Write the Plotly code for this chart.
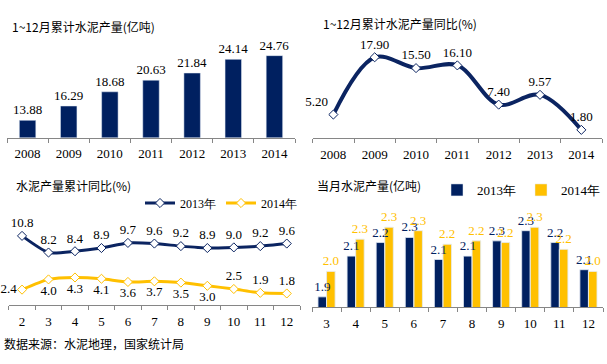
import plotly.graph_objects as go

# ---------------- data ----------------
years = ["2008", "2009", "2010", "2011", "2012", "2013", "2014"]
annual_output = [13.88, 16.29, 18.68, 20.63, 21.84, 24.14, 24.76]
annual_growth = [5.20, 17.90, 15.50, 16.10, 7.40, 9.57, 1.80]

cum_months = ["2", "3", "4", "5", "6", "7", "8", "9", "10", "11", "12"]
cum_growth_2013 = [10.8, 8.2, 8.4, 8.9, 9.7, 9.6, 9.2, 8.9, 9.0, 9.2, 9.6]
cum_growth_2014 = [2.4, 4.0, 4.3, 4.1, 3.6, 3.7, 3.5, 3.0, 2.5, 1.9, 1.8]

mon_months = ["3", "4", "5", "6", "7", "8", "9", "10", "11", "12"]
mon_2013 = [1.90, 2.14, 2.22, 2.25, 2.12, 2.14, 2.23, 2.29, 2.22, 2.06]
mon_2014 = [2.05, 2.24, 2.31, 2.29, 2.21, 2.23, 2.22, 2.31, 2.18, 2.05]
mon_2013_labels = ["1.9", "2.1", "2.2", "2.3", "2.1", "2.1", "2.3", "2.3", "2.2", "2.1"]
mon_2014_labels = ["2.0", "2.3", "2.3", "2.3", "2.2", "2.2", "2.2", "2.3", "2.2", "2.0"]

# ---------------- style ----------------
W, H = 607, 364
NAVY = "#0B2461"
BARNAVY = "#002060"
YELLOW = "#FFC000"
AXIS = "#868686"
NUMFONT = "Liberation Serif"
CJK = "Noto Sans CJK SC"


def xd(a, b):
    return [a / W, b / W]


def yd(top, bottom):
    return [1 - bottom / H, 1 - top / H]


fig = go.Figure()

# Panel 1: annual output bars
fig.add_trace(go.Bar(
    x=years, y=annual_output, xaxis="x", yaxis="y",
    marker_color=BARNAVY, width=0.4,
    text=[f"{v:.2f}" for v in annual_output], textposition="outside",
    textfont=dict(family=NUMFONT, size=13, color="#000"), constraintext="none",
    cliponaxis=False, showlegend=False))

# Panel 2: annual growth line
pos2 = ["top left", "top center", "top center", "top center", "top center", "top center", "top center"]
fig.add_trace(go.Scatter(
    x=years, y=annual_growth, xaxis="x2", yaxis="y2",
    mode="lines+markers+text", line=dict(color=NAVY, width=4, shape="spline", smoothing=1),
    marker=dict(symbol="diamond", size=7, color="white", line=dict(color=NAVY, width=1)),
    text=[f"{v:.2f}" for v in annual_growth], textposition=pos2,
    textfont=dict(family=NUMFONT, size=13, color="#000"),
    cliponaxis=False, showlegend=False))

# Panel 3: cumulative growth lines
pos3_2014 = ["middle left"] + ["bottom center"] * 7 + ["top center"] * 3
fig.add_trace(go.Scatter(
    x=cum_months, y=cum_growth_2013, xaxis="x3", yaxis="y3", name="2013年",
    mode="lines+markers+text", line=dict(color=NAVY, width=3, shape="spline", smoothing=0.6),
    marker=dict(symbol="diamond", size=7, color="white", line=dict(color=NAVY, width=1)),
    text=[f"{v:.1f}" for v in cum_growth_2013], textposition="top center",
    textfont=dict(family=NUMFONT, size=13, color="#000"),
    cliponaxis=False, legend="legend"))
fig.add_trace(go.Scatter(
    x=cum_months, y=cum_growth_2014, xaxis="x3", yaxis="y3", name="2014年",
    mode="lines+markers+text", line=dict(color=YELLOW, width=3, shape="spline", smoothing=0.6),
    marker=dict(symbol="diamond", size=7, color="white", line=dict(color=YELLOW, width=1)),
    text=[f"{v:.1f}" for v in cum_growth_2014], textposition=pos3_2014,
    textfont=dict(family=NUMFONT, size=13, color="#000"),
    cliponaxis=False, legend="legend"))

# Panel 4: monthly output bars (bars on base axes)
fig.add_trace(go.Bar(
    x=mon_months, y=mon_2013, xaxis="x4", yaxis="y4", name="2013年",
    marker_color=BARNAVY, legend="legend2", hoverinfo="skip"))
fig.add_trace(go.Bar(
    x=mon_months, y=mon_2014, xaxis="x4", yaxis="y4", name="2014年",
    marker_color=YELLOW, legend="legend2", hoverinfo="skip"))
# value labels on an identical overlay so that every label sits above all bars
fig.add_trace(go.Bar(
    x=mon_months, y=mon_2013, xaxis="x5", yaxis="y5", showlegend=False,
    marker=dict(color="rgba(0,0,0,0)"), text=mon_2013_labels, textposition="outside",
    textfont=dict(family=NUMFONT, size=13, color=BARNAVY), constraintext="none",
    cliponaxis=False))
fig.add_trace(go.Bar(
    x=mon_months, y=mon_2014, xaxis="x5", yaxis="y5", showlegend=False,
    marker=dict(color="rgba(0,0,0,0)"), text=mon_2014_labels, textposition="outside",
    textfont=dict(family=NUMFONT, size=13, color=YELLOW), constraintext="none",
    cliponaxis=False))

xcommon = dict(type="category", showline=True, linecolor=AXIS, linewidth=1,
               ticks="outside", ticklen=4, tickcolor=AXIS, tickson="boundaries",
               showgrid=False, zeroline=False, fixedrange=True,
               tickfont=dict(family=NUMFONT, size=13, color="#000"), ticklabelstandoff=4)
ycommon = dict(visible=False, showgrid=False, zeroline=False, fixedrange=True)

fig.update_layout(
    width=W, height=H, margin=dict(l=0, r=0, t=0, b=0, autoexpand=False),
    paper_bgcolor="white", plot_bgcolor="white",
    barmode="group", bargap=0.41, bargroupgap=0,
    xaxis=dict(xcommon, domain=xd(7, 295), range=[-0.5, 6.5], anchor="y"),
    yaxis=dict(ycommon, domain=yd(40, 137.5), range=[11, 27.39], anchor="x"),
    xaxis2=dict(xcommon, domain=xd(312.7, 602), range=[-0.5, 6.5], anchor="y2"),
    yaxis2=dict(ycommon, domain=yd(40, 138), range=[0, 21.73], anchor="x2"),
    xaxis3=dict(xcommon, domain=xd(8.8, 300), range=[-0.5, 10.5], anchor="y3"),
    yaxis3=dict(ycommon, domain=yd(225, 305), range=[0, 12.5], anchor="x3"),
    xaxis4=dict(xcommon, domain=xd(312, 603), range=[-0.5, 9.5], anchor="y4"),
    yaxis4=dict(ycommon, domain=yd(212, 307), range=[1.84, 2.40], anchor="x4"),
    xaxis5=dict(type="category", overlaying="x4", range=[-0.5, 9.5], visible=False,
                fixedrange=True, anchor="y5"),
    yaxis5=dict(ycommon, overlaying="y4", range=[1.84, 2.40], anchor="x5"),
    legend=dict(orientation="h", x=140 / W, y=1 - 203 / H, xanchor="left", yanchor="middle",
                font=dict(family=NUMFONT, size=12, color="#000"), bgcolor="rgba(0,0,0,0)",
                itemwidth=30, tracegroupgap=0),
    legend2=dict(orientation="h", x=437 / W, y=1 - 190 / H, xanchor="left", yanchor="middle",
                 font=dict(family=NUMFONT, size=13, color="#000"), bgcolor="rgba(0,0,0,0)",
                 itemwidth=30, tracegroupgap=0),
    showlegend=True,
)

titles = [
    ("1~12月累计水泥产量(亿吨)", 10, 27),
    ("1~12月累计水泥产量同比(%)", 321, 24),
    ("水泥产量累计同比(%)", 14, 185),
    ("当月水泥产量(亿吨)", 315, 185),
    ("数据来源：水泥地理，国家统计局", 2, 343),
]
for t, px, py in titles:
    fig.add_annotation(text=t, x=px / W, y=1 - py / H, xref="paper", yref="paper",
                       xanchor="left", yanchor="middle", showarrow=False,
                       font=dict(family=CJK, size=12, color="#000"))

fig.write_html(
    "out.html",
    config={"displayModeBar": False},
    post_script="document.body.style.margin='0';document.body.style.padding='0';"
                "document.documentElement.style.overflow='hidden';",
)
